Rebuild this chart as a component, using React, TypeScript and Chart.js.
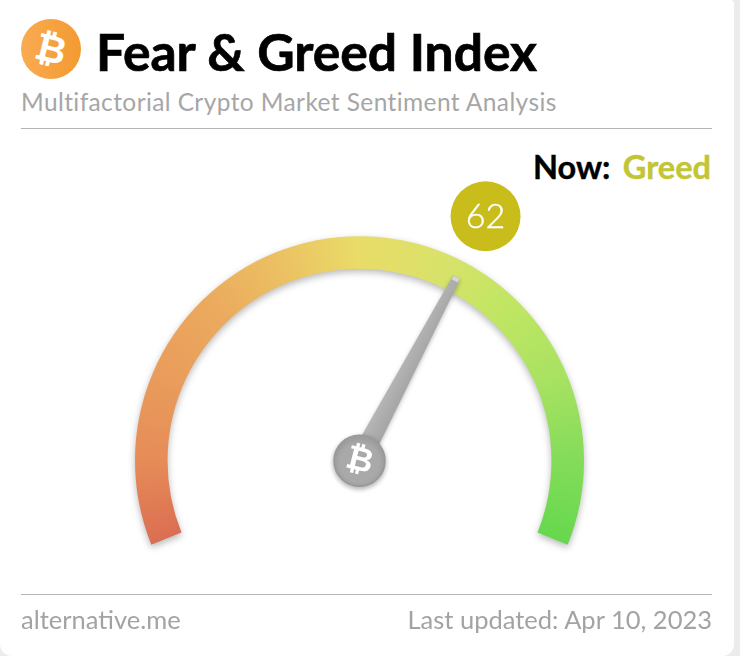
import React, { useEffect, useRef } from 'react';
import Chart from 'chart.js/auto';

// Chart values
const scaleSpan = [100];
const indexValue = 62;
const gaugeColors = ['#db6e52', '#e68c58', '#e99c5b', '#eba95e', '#ecc062', '#e9dc68', '#d9e26a', '#bfe663', '#a8e261', '#84dc5a', '#66d84e'];

const ARC_ROTATION = -112;
const ARC_SWEEP = 224;
// the needle in the picture sits about a degree past the exact value
const NEEDLE_NUDGE = (1 * Math.PI) / 180;
const BUBBLE_NUDGE = (0.4 * Math.PI) / 180;

const FONT = 'Lato, "Open Sans", sans-serif';
const BTC_FONT = '"DejaVu Sans", sans-serif';

// soft shadow under the band
const bandShadow = {
  id: 'bandShadow',
  beforeDatasetDraw(chart: any) {
    const c = chart.ctx;
    c.save();
    c.shadowColor = 'rgba(0,0,0,0.28)';
    c.shadowBlur = 7;
    c.shadowOffsetY = 3;
  },
  afterDatasetDraw(chart: any) {
    chart.ctx.restore();
  },
};

// needle, hub and value bubble go on top of the doughnut
const needlePlugin = {
  id: 'needle',
  afterDatasetsDraw(chart: any) {
    const arc = chart.getDatasetMeta(0).data[0];
    const { x, y, startAngle, endAngle, outerRadius } = arc.getProps(['x', 'y', 'startAngle', 'endAngle', 'outerRadius'], true);
    const angle = startAngle + (endAngle - startAngle) * (indexValue / scaleSpan[0]);
    const c = chart.ctx;

    // needle
    c.save();
    c.translate(x, y);
    c.rotate(angle + NEEDLE_NUDGE);
    c.shadowColor = 'rgba(0,0,0,0.25)';
    c.shadowBlur = 4;
    c.shadowOffsetY = 2;
    const grad = c.createLinearGradient(0, -10, 0, 10);
    grad.addColorStop(0, '#b6b6b6');
    grad.addColorStop(1, '#a4a4a4');
    c.fillStyle = grad;
    c.beginPath();
    c.moveTo(0, -10.5);
    c.lineTo(outerRadius - 17, -4);
    c.lineTo(outerRadius - 17, 4);
    c.lineTo(0, 10.5);
    c.closePath();
    c.fill();
    c.shadowColor = 'transparent';
    c.fillStyle = '#d6d6d6';
    c.fillRect(outerRadius - 21, -3.5, 4, 7);
    c.restore();

    // hub
    c.save();
    c.shadowColor = 'rgba(0,0,0,0.3)';
    c.shadowBlur = 5;
    c.shadowOffsetY = 2;
    c.fillStyle = '#a9a9a9';
    c.strokeStyle = '#989898';
    c.lineWidth = 1.5;
    c.beginPath();
    c.arc(x, y, 25.5, 0, Math.PI * 2);
    c.fill();
    c.stroke();
    c.restore();

    c.save();
    c.translate(x, y);
    c.rotate((14 * Math.PI) / 180);
    c.fillStyle = '#ffffff';
    c.font = `bold 33px ${BTC_FONT}`;
    c.textAlign = 'center';
    c.textBaseline = 'middle';
    c.fillText('₿', 0, 1);
    c.restore();

    // bubble
    const bx = x + Math.cos(angle + BUBBLE_NUDGE) * (outerRadius + 50.5);
    const by = y + Math.sin(angle + BUBBLE_NUDGE) * (outerRadius + 50.5);
    c.save();
    c.fillStyle = '#c9bd1c';
    c.beginPath();
    c.arc(bx, by, 35, 0, Math.PI * 2);
    c.fill();
    c.fillStyle = '#ffffff';
    c.strokeStyle = '#ffffff';
    c.lineWidth = 0.4;
    c.font = `300 34px ${FONT}`;
    c.textAlign = 'center';
    c.textBaseline = 'middle';
    c.fillText(String(indexValue), bx, by + 1);
    c.strokeText(String(indexValue), bx, by + 1);
    c.restore();
  },
};

const App: React.FC = () => {
  const canvasRef = useRef<HTMLCanvasElement | null>(null);

  useEffect(() => {
    document.body.style.margin = '0';
    if (!canvasRef.current) return;
    const chart = new Chart(canvasRef.current, {
      type: 'doughnut',
      data: {
        labels: ['Fear & Greed Index'],
        datasets: [
          {
            data: scaleSpan,
            borderWidth: 0,
            backgroundColor: (ctx: any) => {
              const ch = ctx.chart;
              const area = ch.chartArea;
              if (!area) return gaugeColors[0];
              const ctrl = ch.getDatasetMeta(0).controller;
              const cx = (area.left + area.right) / 2 + (ctrl.offsetX || 0);
              const cy = (area.top + area.bottom) / 2 + (ctrl.offsetY || 0);
              const start = ((ARC_ROTATION - 90) * Math.PI) / 180;
              const grad = ch.ctx.createConicGradient(start, cx, cy);
              gaugeColors.forEach((col, i) => {
                grad.addColorStop(((i / (gaugeColors.length - 1)) * ARC_SWEEP) / 360, col);
              });
              return grad;
            },
          },
        ],
      },
      options: {
        responsive: false,
        animation: false,
        rotation: ARC_ROTATION,
        circumference: ARC_SWEEP,
        cutout: '85.5%',
        layout: { padding: { left: 135, right: 156, top: 236, bottom: 111 } },
        plugins: { legend: { display: false }, tooltip: { enabled: false } },
        events: [],
      },
      plugins: [bandShadow, needlePlugin],
    } as any);
    return () => chart.destroy();
  }, []);

  const abs = (style: React.CSSProperties): React.CSSProperties => ({
    position: 'absolute',
    whiteSpace: 'nowrap',
    lineHeight: 1,
    fontFamily: FONT,
    ...style,
  });

  return (
    <div style={{ position: 'relative', width: 740, height: 656, background: '#ececec', overflow: 'hidden' }}>
      <div style={{ position: 'absolute', left: 0, top: 0, width: 734, height: 656, background: '#fff', borderRadius: '0 4px 12px 12px' }} />

      <div
        style={{
          position: 'absolute',
          left: 21,
          top: 19,
          width: 60,
          height: 60,
          borderRadius: '50%',
          background: 'linear-gradient(90deg, #f9ab52, #f49a30)',
        }}
      />
      <span style={abs({ left: 21, top: 30, width: 60, textAlign: 'center', fontFamily: BTC_FONT, fontWeight: 700, fontSize: 38, color: '#fff', transform: 'rotate(14deg)' })}>₿</span>

      <span style={abs({ left: 96, top: 26, fontSize: 51.6, fontWeight: 700, color: '#000', WebkitTextStroke: '0.7px #000' })}>Fear &amp; Greed Index</span>
      <span style={abs({ left: 21, top: 90, fontSize: 24.5, color: '#a6a6a6', letterSpacing: 0.4 })}>Multifactorial Crypto Market Sentiment Analysis</span>
      <div style={{ position: 'absolute', left: 21, top: 128, width: 691, height: 1, background: '#b4b4b4' }} />

      <span style={abs({ left: 533, top: 151, fontSize: 32.5, fontWeight: 700, color: '#000', WebkitTextStroke: '0.4px #000' })}>Now:</span>
      <span style={abs({ right: 29, top: 151, fontSize: 32.5, fontWeight: 700, color: '#c2c534', WebkitTextStroke: '0.4px #c2c534' })}>Greed</span>

      <canvas ref={canvasRef} width={740} height={656} style={{ position: 'absolute', left: 0, top: 0 }} />

      <div style={{ position: 'absolute', left: 21, top: 594, width: 691, height: 1, background: '#b4b4b4' }} />
      <span style={abs({ left: 21, top: 607, fontSize: 25.5, color: '#a3a3a3' })}>alternative.me</span>
      <span style={abs({ right: 28, top: 607, fontSize: 25.5, color: '#a3a3a3' })}>Last updated: Apr 10, 2023</span>
    </div>
  );
};

export default App;
